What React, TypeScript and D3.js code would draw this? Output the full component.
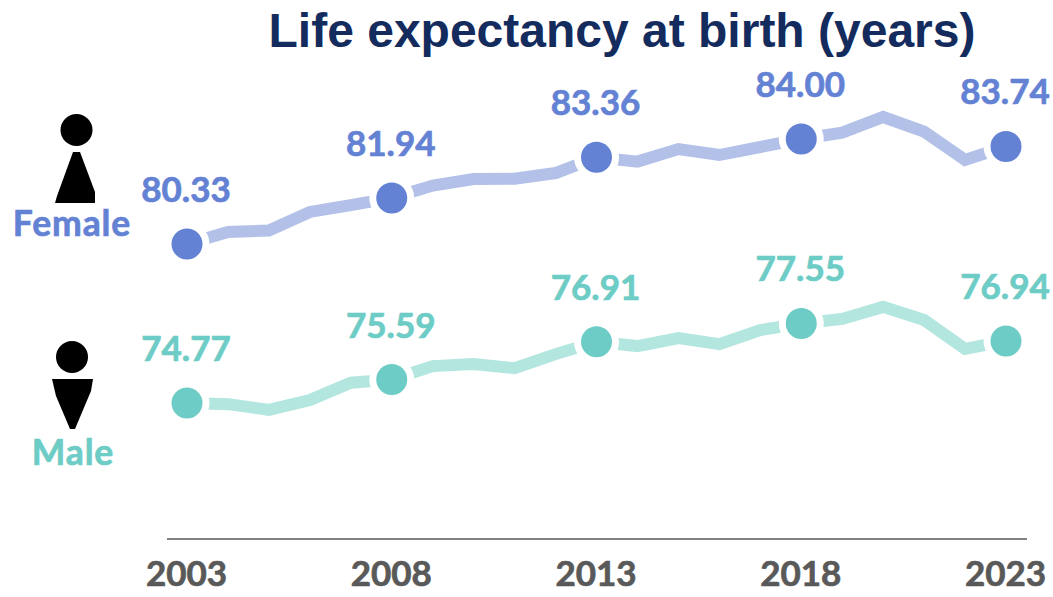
import React, { useRef, useEffect } from "react";
import * as d3 from "d3";

const years = d3.range(2003, 2024);
const labelYears = [2003, 2008, 2013, 2018, 2023];

const femaleValues = [
  80.33, 80.75, 80.8, 81.45, 81.69, 81.94, 82.37, 82.6, 82.61, 82.81, 83.36,
  83.21, 83.65, 83.44, 83.72, 84.0, 84.22, 84.77, 84.26, 83.27, 83.74,
];
const maleValues = [
  74.77, 74.73, 74.53, 74.87, 75.48, 75.59, 76.06, 76.13, 75.99, 76.48, 76.91,
  76.76, 77.04, 76.83, 77.32, 77.55, 77.71, 78.13, 77.67, 76.66, 76.94,
];

const labelFont = "Lato, sans-serif";

function App() {
  const container = useRef<SVGSVGElement | null>(null);

  useEffect(() => {
    const svg = d3.select(container.current);
    svg.selectAll("*").remove();

    const x = d3.scaleLinear().domain([2003, 2023]).range([187, 1006]);
    const y = d3.scaleLinear().domain([74.77, 84]).range([403, 139]);

    svg
      .append("text")
      .attr("x", 622)
      .attr("y", 47)
      .attr("text-anchor", "middle")
      .style("font-family", "'Liberation Sans', Arial, sans-serif")
      .style("font-weight", 700)
      .style("font-size", "48px")
      .style("fill", "#142b5e")
      .text("Life expectancy at birth (years)");

    const line = d3
      .line<number>()
      .x((d, i) => x(years[i]))
      .y((d) => y(d));

    const series = [
      { values: femaleValues, dark: "#6482d4", light: "#b3c1e8" },
      { values: maleValues, dark: "#6dccc5", light: "#b3e6df" },
    ];

    series.forEach((s) => {
      svg
        .append("path")
        .attr("d", line(s.values))
        .attr("fill", "none")
        .attr("stroke", s.light)
        .attr("stroke-width", 12)
        .attr("stroke-linejoin", "miter");

      const points = labelYears.map((yr) => ({
        yr,
        v: s.values[years.indexOf(yr)],
      }));

      // white ring cuts the line around each dot
      svg
        .append("g")
        .selectAll("circle")
        .data(points)
        .enter()
        .append("circle")
        .attr("cx", (d) => x(d.yr))
        .attr("cy", (d) => y(d.v))
        .attr("r", 22.5)
        .attr("fill", "#fff");

      svg
        .append("g")
        .selectAll("circle.dot")
        .data(points)
        .enter()
        .append("circle")
        .attr("class", "dot")
        .attr("cx", (d) => x(d.yr))
        .attr("cy", (d) => y(d.v))
        .attr("r", 15.5)
        .attr("fill", s.dark);

      svg
        .append("g")
        .selectAll("text")
        .data(points)
        .enter()
        .append("text")
        .attr("x", (d) => x(d.yr) - 1)
        .attr("y", (d) => y(d.v) - 42)
        .attr("text-anchor", "middle")
        .style("font-family", labelFont)
        .style("font-weight", 700)
        .style("font-size", "35px")
        .style("fill", s.dark)
        .style("stroke", s.dark)
        .style("stroke-width", 0.7)
        .text((d) => d.v.toFixed(2));
    });

    // axis: only labels, the baseline runs a bit past the first and last year
    const axis = svg
      .append("g")
      .attr("transform", "translate(0,539)")
      .call(
        d3
          .axisBottom(x)
          .tickValues(labelYears)
          .tickSize(0)
          .tickPadding(22)
          .tickFormat((d) => String(d))
      );
    axis.select(".domain").remove();
    axis
      .selectAll("text")
      .attr("dx", -1)
      .style("font-family", labelFont)
      .style("font-weight", 700)
      .style("font-size", "35px")
      .style("fill", "#595959")
      .style("stroke", "#595959")
      .style("stroke-width", 0.7);
    axis
      .append("line")
      .attr("x1", x(2003) - 20)
      .attr("x2", x(2023) + 21)
      .attr("stroke", "#595959")
      .attr("stroke-width", 1.5);

    // person icons
    svg.append("circle").attr("cx", 76.5).attr("cy", 130).attr("r", 16).attr("fill", "#000");
    svg.append("path").attr("d", "M73,152L80,152L95,192L95,203L55,203L57,196Z").attr("fill", "#000");
    svg.append("circle").attr("cx", 72).attr("cy", 357).attr("r", 16).attr("fill", "#000");
    svg.append("path").attr("d", "M52,379L93,379L91,391L75,429L70,429L56,396Z").attr("fill", "#000");

    const names = [
      { name: "Female", cx: 72, base: 236, color: "#6482d4" },
      { name: "Male", cx: 73, base: 465, color: "#6dccc5" },
    ];
    svg
      .append("g")
      .selectAll("text")
      .data(names)
      .enter()
      .append("text")
      .attr("x", (d) => d.cx)
      .attr("y", (d) => d.base)
      .attr("text-anchor", "middle")
      .style("font-family", labelFont)
      .style("font-weight", 700)
      .style("font-size", "35.5px")
      .style("letter-spacing", "0.9px")
      .style("fill", (d) => d.color)
      .style("stroke", (d) => d.color)
      .style("stroke-width", 0.7)
      .text((d) => d.name);
  }, []);

  return (
    <svg
      ref={container}
      width={1053}
      height={597}
      style={{ position: "absolute", left: 0, top: 0, background: "#fff" }}
    />
  );
}

export default App;
